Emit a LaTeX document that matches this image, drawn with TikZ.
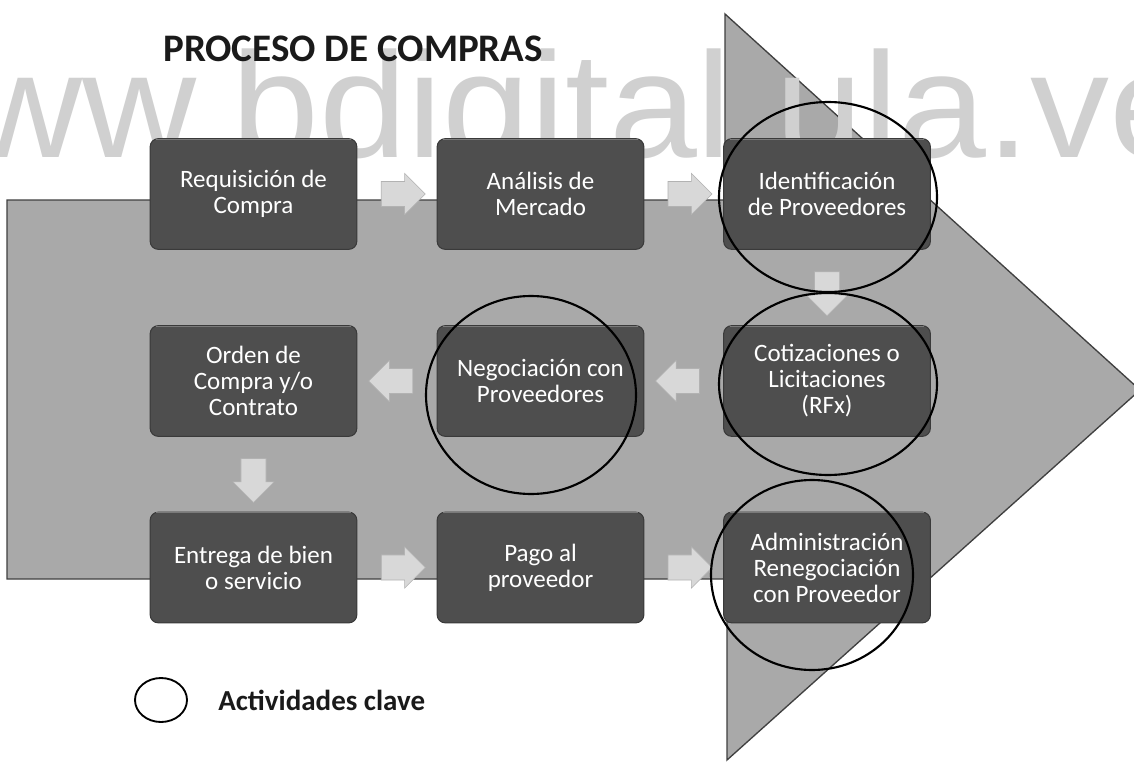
\documentclass[tikz,border=0pt]{standalone}
\usepackage{fontspec}
\setmainfont{Carlito}
\newfontfamily\wmfont{Liberation Sans}
\usetikzlibrary{shapes.geometric,shapes.arrows,calc}
\definecolor{bigarrow}{HTML}{A9A9A9}
\definecolor{bigedge}{HTML}{404040}
\definecolor{boxfill}{HTML}{4E4E4E}
\definecolor{boxedge}{HTML}{3A3A3A}
\definecolor{boxtop}{HTML}{7A7A7A}
\definecolor{wmgray}{HTML}{D0D0D0}
\definecolor{minifill}{HTML}{D8D8D8}
\definecolor{titleink}{HTML}{1A1A1A}
\begin{document}
\begin{tikzpicture}[x=0.75pt,y=-0.75pt,
  stepbox/.style={rectangle, rounded corners=6pt, fill=boxfill, draw=boxedge,
    line width=0.8pt, minimum width=155pt, minimum height=83pt, align=center,
    text=white, font=\fontsize{18.75}{19.5}\selectfont, inner sep=0pt},
  mini/.style={single arrow, fill=minifill, draw=gray!60, line width=0.4pt,
    minimum height=33pt, minimum width=31pt, single arrow head extend=6pt,
    inner sep=0pt},
  keyring/.style={ellipse, draw=black, line width=1.6pt, inner sep=0pt}
]
\useasboundingbox (0,0) rectangle (1134,763);
\clip (0,0) rectangle (1134,763);
\fill[white] (0,0) rectangle (1134,763);

% big background arrow
\filldraw[fill=bigarrow, draw=bigedge, line width=1pt, line join=miter]
  (7,200) -- (725,200) -- (725,14) -- (1140,390) -- (727,760) -- (727,579) -- (7,579) -- cycle;

% watermark
\node[anchor=base west, text=wmgray, font=\wmfont\fontsize{112.5}{120}\selectfont,
  inner sep=0pt] (wm) at (-146,157) {\scalebox{1.053}[1]{www.bdigital.ula.ve}};

% title
\node[anchor=base west, text=titleink, font=\bfseries\fontsize{29.25}{32}\selectfont,
  inner sep=0pt] (title) at (163,62) {PROCESO DE COMPRAS};

% steps
\node[stepbox] (req) at (253.5,194) {Requisición de\\Compra};
\node[stepbox] (ana) at (540.5,194) {Análisis de\\Mercado};
\node[stepbox] (ide) at (827,194) {Identificación\\de Proveedores};
\node[stepbox] (cot) at (827,381) {Cotizaciones o\\Licitaciones\\(RFx)};
\node[stepbox] (neg) at (540.5,381) {Negociación con\\Proveedores};
\node[stepbox] (ord) at (253.5,381) {Orden de\\Compra y/o\\Contrato};
\node[stepbox] (ent) at (253.5,567.5) {Entrega de bien\\o servicio};
\node[stepbox] (pag) at (540.5,567.5) {Pago al\\proveedor};
\node[stepbox] (adm) at (827,567.5) {Administración\\Renegociación\\con Proveedor};

% light top edge of each step box
\foreach \b in {req,ana,ide,cot,neg,ord,ent,pag,adm}{
  \draw[boxtop, line width=1pt] ([xshift=5pt,yshift=-0.8pt]\b.north west) -- ([xshift=-5pt,yshift=-0.8pt]\b.north east);
}

% small flow arrows
\node[mini, shape border rotate=0]   (m1) at ($(req.east)!0.5!(ana.west)$) {\rule{0pt}{18pt}};
\node[mini, shape border rotate=0]   (m2) at ($(ana.east)!0.5!(ide.west)$) {\rule{0pt}{18pt}};
\node[mini, shape border rotate=270] (m3) at ($(ide.south)!0.5!(cot.north)$) {\rule{18pt}{0pt}};
\node[mini, shape border rotate=180] (m4) at ($(cot.west)!0.5!(neg.east)$) {\rule{0pt}{18pt}};
\node[mini, shape border rotate=180] (m5) at ($(neg.west)!0.5!(ord.east)$) {\rule{0pt}{18pt}};
\node[mini, shape border rotate=270] (m6) at ($(ord.south)!0.5!(ent.north)$) {\rule{18pt}{0pt}};
\node[mini, shape border rotate=0]   (m7) at ($(ent.east)!0.5!(pag.west)$) {\rule{0pt}{18pt}};
\node[mini, shape border rotate=0]   (m8) at ($(pag.east)!0.5!(adm.west)$) {\rule{0pt}{18pt}};

% key activity rings
\node[keyring, minimum width=163.5pt, minimum height=142.5pt] (k1) at (828,197) {};
\node[keyring, minimum width=163.5pt, minimum height=136.5pt] (k2) at (828,384) {};
\node[keyring, minimum width=151.5pt, minimum height=142.5pt] (k3) at (812,575) {};
\node[keyring, minimum width=157.5pt, minimum height=148.5pt] (k4) at (531,395) {};

% legend
\node[keyring, line width=1.4pt, minimum width=39pt, minimum height=33pt] (lg) at (161,700) {};
\node[anchor=base west, text=titleink, font=\bfseries\fontsize{21.75}{24}\selectfont,
  inner sep=0pt] (legtext) at (218,710) {Actividades clave};
\end{tikzpicture}
\end{document}
